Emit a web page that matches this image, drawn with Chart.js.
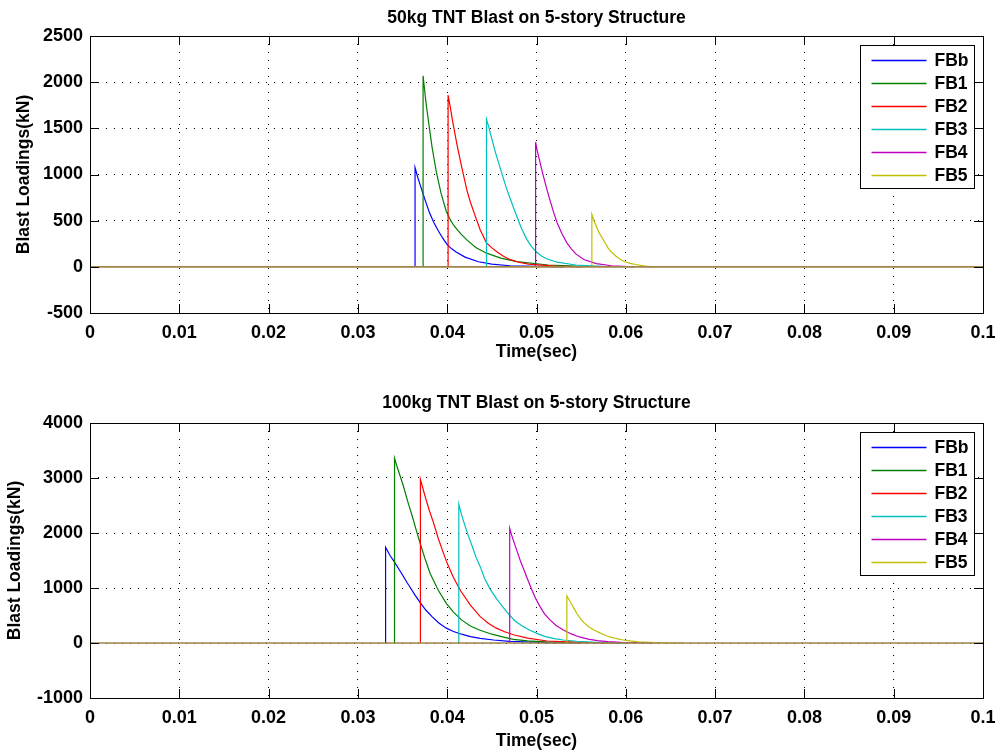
<!DOCTYPE html>
<html>
<head>
<meta charset="utf-8">
<script src="https://cdn.jsdelivr.net/npm/chart.js@4.4.1/dist/chart.umd.min.js"></script>
<style>
  body { margin: 0; background: #fff; }
  .box { position: absolute; left: 0; width: 1002px; height: 376px; }
  #top { top: 0; }
  #bottom { top: 376px; }
</style>
</head>
<body>
<div class="box" id="top"><canvas id="c50" width="1002" height="376"></canvas></div>
<div class="box" id="bottom"><canvas id="c100" width="1002" height="376"></canvas></div>
<script>
// series names, same for both charts
let seriesNames = ['FBb', 'FB1', 'FB2', 'FB3', 'FB4', 'FB5']
let seriesColors = ['#0000ff', '#008000', '#ff0000', '#00bfbf', '#bf00bf', '#bfbf00']

// 50kg blast: time (sec) and load (kN), one list per series
let time50 = [
  [0.0364, 0.0364, 0.0367, 0.0370, 0.0375, 0.0380, 0.0385, 0.0390, 0.0395, 0.0400, 0.0405, 0.0410, 0.0420, 0.0435, 0.0450, 0.0470, 0.0500, 0.0530],
  [0.0373, 0.0373, 0.0376, 0.0378, 0.0381, 0.0383, 0.0386, 0.0388, 0.0393, 0.0399, 0.0404, 0.0408, 0.0415, 0.0422, 0.0432, 0.0444, 0.0460, 0.0478, 0.0513, 0.0553],
  [0.0401, 0.0401, 0.0404, 0.0406, 0.0411, 0.0416, 0.0422, 0.0426, 0.0431, 0.0437, 0.0444, 0.0450, 0.0456, 0.0463, 0.0470, 0.0480, 0.0491, 0.0521, 0.0551],
  [0.0444, 0.0444, 0.0447, 0.0449, 0.0454, 0.0459, 0.0466, 0.0472, 0.0478, 0.0483, 0.0489, 0.0494, 0.0500, 0.0506, 0.0512, 0.0523, 0.0544, 0.0574],
  [0.0499, 0.0499, 0.0501, 0.0503, 0.0507, 0.0511, 0.0515, 0.0519, 0.0523, 0.0528, 0.0534, 0.0539, 0.0544, 0.0553, 0.0567, 0.0584, 0.0609],
  [0.0562, 0.0562, 0.0564, 0.0566, 0.0570, 0.0575, 0.0580, 0.0584, 0.0589, 0.0594, 0.0599, 0.0605, 0.0611, 0.0622, 0.0630]
]
let load50 = [
  [0, 1075, 970, 880, 730, 590, 480, 390, 310, 240, 195, 160, 105, 55, 30, 12, 4, 0],
  [0, 2070, 1800, 1650, 1440, 1300, 1130, 1020, 800, 600, 500, 440, 360, 292, 210, 148, 95, 57, 20, 5],
  [0, 1861, 1700, 1580, 1320, 1090, 833, 700, 560, 400, 260, 205, 160, 115, 80, 50, 30, 8, 0],
  [0, 1598, 1500, 1420, 1240, 1080, 860, 700, 545, 420, 300, 225, 160, 115, 85, 50, 20, 5],
  [0, 1350, 1250, 1170, 1010, 860, 725, 595, 480, 370, 260, 195, 140, 80, 35, 12, 0],
  [0, 570, 510, 460, 370, 290, 205, 160, 115, 80, 55, 38, 25, 8, 0]
]

// 100kg blast
let time100 = [
  [0.0331, 0.0331, 0.0336, 0.0341, 0.0346, 0.0351, 0.0355, 0.0359, 0.0364, 0.0369, 0.0376, 0.0383, 0.0391, 0.0399, 0.0407, 0.0416, 0.0426, 0.0437, 0.0452, 0.0470, 0.0511, 0.0551],
  [0.0341, 0.0341, 0.0344, 0.0346, 0.0351, 0.0356, 0.0361, 0.0365, 0.0369, 0.0375, 0.0381, 0.0390, 0.0399, 0.0407, 0.0416, 0.0426, 0.0436, 0.0450, 0.0462, 0.0474, 0.0490, 0.0511, 0.0561, 0.0600],
  [0.0370, 0.0370, 0.0373, 0.0375, 0.0380, 0.0385, 0.0390, 0.0395, 0.0400, 0.0407, 0.0415, 0.0426, 0.0437, 0.0446, 0.0455, 0.0465, 0.0475, 0.0490, 0.0512, 0.0550, 0.0590],
  [0.0413, 0.0413, 0.0416, 0.0418, 0.0423, 0.0428, 0.0432, 0.0437, 0.0442, 0.0448, 0.0455, 0.0462, 0.0469, 0.0476, 0.0484, 0.0492, 0.0501, 0.0510, 0.0520, 0.0530, 0.0545, 0.0563, 0.0603],
  [0.0470, 0.0470, 0.0472, 0.0474, 0.0478, 0.0482, 0.0486, 0.0490, 0.0495, 0.0499, 0.0504, 0.0509, 0.0515, 0.0522, 0.0530, 0.0539, 0.0548, 0.0558, 0.0568, 0.0580, 0.0595, 0.0630],
  [0.0534, 0.0534, 0.0536, 0.0538, 0.0542, 0.0545, 0.0549, 0.0553, 0.0558, 0.0563, 0.0568, 0.0575, 0.0582, 0.0590, 0.0597, 0.0605, 0.0614, 0.0639, 0.0664]
]
let load100 = [
  [0, 1740, 1590, 1470, 1340, 1210, 1100, 1000, 870, 751, 600, 480, 360, 270, 210, 160, 115, 85, 55, 30, 8, 0],
  [0, 3358, 3200, 3100, 2850, 2560, 2300, 2070, 1850, 1540, 1260, 960, 721, 560, 420, 310, 236, 160, 110, 67, 40, 20, 5, 0],
  [0, 2976, 2800, 2680, 2410, 2170, 1900, 1670, 1448, 1190, 950, 690, 479, 360, 270, 200, 145, 90, 36, 10, 0],
  [0, 2521, 2340, 2230, 1980, 1760, 1570, 1388, 1170, 980, 810, 661, 520, 400, 310, 236, 170, 115, 80, 55, 32, 15, 0],
  [0, 2085, 1970, 1870, 1680, 1490, 1327, 1160, 960, 810, 661, 530, 420, 320, 236, 165, 110, 70, 42, 25, 12, 0],
  [0, 855, 800, 740, 630, 540, 448, 370, 300, 250, 206, 155, 110, 78, 55, 37, 22, 5, 0]
]

// zero line over the whole time span
let baseTime = [0, 0.1]
let baseLoad = [0, 0]

let fontFam = '"Liberation Sans", Arial, sans-serif'

// box, inward ticks and the boxed legend, matlab style
let matlabBits = {
  id: 'matlabBits',
  afterDraw(chart) {
    let ctx = chart.ctx
    let a = chart.chartArea
    let sx = chart.scales.x
    let sy = chart.scales.y
    ctx.save()
    ctx.strokeStyle = '#000'
    ctx.lineWidth = 1
    ctx.beginPath()
    sx.ticks.forEach(t => {
      let px = Math.round(sx.getPixelForValue(t.value)) + 0.5
      ctx.moveTo(px, a.bottom); ctx.lineTo(px, a.bottom - 9)
      ctx.moveTo(px, a.top); ctx.lineTo(px, a.top + 9)
    })
    sy.ticks.forEach(t => {
      let py = Math.round(sy.getPixelForValue(t.value)) + 0.5
      ctx.moveTo(a.left, py); ctx.lineTo(a.left + 9, py)
      ctx.moveTo(a.right, py); ctx.lineTo(a.right - 9, py)
    })
    ctx.stroke()
    ctx.strokeRect(Math.round(a.left) + 0.5, Math.round(a.top) + 0.5,
      Math.round(a.right - a.left), Math.round(a.bottom - a.top))

    // legend
    let items = chart.data.datasets.filter(d => d.label)
    let bx = Math.round(a.right) - 123 + 0.5
    let by = Math.round(a.top) + 9 + 0.5
    let rowH = 23
    let bh = 14 + rowH * (items.length - 1) + 14
    ctx.fillStyle = '#fff'
    ctx.fillRect(bx, by, 114, bh)
    ctx.strokeRect(bx, by, 114, bh)
    ctx.font = 'bold 17.5px ' + fontFam
    ctx.textBaseline = 'middle'
    ctx.textAlign = 'left'
    items.forEach((d, i) => {
      let ry = Math.round(by + 14 + i * rowH) + 0.5
      ctx.strokeStyle = d.borderColor
      ctx.lineWidth = 1.3
      ctx.beginPath()
      ctx.moveTo(bx + 11, ry); ctx.lineTo(bx + 66, ry)
      ctx.stroke()
      ctx.fillStyle = '#000'
      ctx.fillText(d.label, bx + 74, ry + 1)
    })
    ctx.restore()
  }
}

function makeChart(id, title, times, loads, ymin, ymax, ystep, lay) {
  let sets = seriesNames.map((name, i) => ({
    label: name,
    data: times[i].map((t, k) => ({ x: t, y: loads[i][k] })),
    borderColor: seriesColors[i],
    borderWidth: 1.2,
    pointRadius: 0,
    fill: false,
    order: 6 - i
  }))
  sets.push({
    label: '',
    data: baseTime.map((t, k) => ({ x: t, y: baseLoad[k] })),
    borderColor: '#a08448',
    borderWidth: 1.6,
    pointRadius: 0,
    order: 0
  })
  return new Chart(document.getElementById(id), {
    type: 'line',
    data: { datasets: sets },
    plugins: [matlabBits],
    options: {
      responsive: false,
      animation: false,
      devicePixelRatio: 1,
      layout: { padding: { left: 0, right: 19, top: 0, bottom: 0 } },
      plugins: {
        legend: { display: false },
        tooltip: { enabled: false },
        title: {
          display: true,
          text: title,
          fullSize: false,
          color: '#000',
          font: { family: fontFam, size: 17.5, weight: 'bold' },
          padding: { top: lay.titleTop, bottom: lay.titleBottom }
        }
      },
      scales: {
        x: {
          type: 'linear',
          min: 0, max: 0.1,
          afterFit: s => { s.height = lay.xHeight; s.paddingLeft = 0; s.paddingRight = 0 },
          border: { display: false, dash: [1, 7] },
          grid: { color: '#000', drawTicks: false },
          ticks: {
            stepSize: 0.01, autoSkip: false, maxRotation: 0, padding: 9,
            color: '#000',
            font: { family: fontFam, size: 18, weight: 'bold' },
            callback: v => String(Number(v.toFixed(2)))
          },
          title: {
            display: true, text: 'Time(sec)', color: '#000',
            font: { family: fontFam, size: 17.5, weight: 'bold' },
            padding: { top: 0, bottom: lay.xTitleBottom }
          }
        },
        y: {
          min: ymin, max: ymax,
          afterFit: s => { s.width = 90; s.paddingTop = 0; s.paddingBottom = 0 },
          border: { display: false, dash: [1, 7] },
          grid: { color: '#000', drawTicks: false },
          ticks: {
            stepSize: ystep, padding: 7, color: '#000',
            font: { family: fontFam, size: 18, weight: 'bold' },
            callback: v => String(v)
          },
          title: {
            display: true, text: 'Blast Loadings(kN)', color: '#000',
            font: { family: fontFam, size: 17.5, weight: 'bold' },
            padding: { top: lay.yTitleTop, bottom: 0 }
          }
        }
      }
    }
  })
}

makeChart('c50', '50kg TNT Blast on 5-story Structure', time50, load50, -500, 2500, 500,
  { titleTop: 7.5, titleBottom: 7.5, xHeight: 63, xTitleBottom: 13, yTitleTop: 13.5 })
makeChart('c100', '100kg TNT Blast on 5-story Structure', time100, load100, -1000, 4000, 1000,
  { titleTop: 16.5, titleBottom: 9.5, xHeight: 54, xTitleBottom: 0, yTitleTop: 4.5 })
</script>
</body>
</html>
